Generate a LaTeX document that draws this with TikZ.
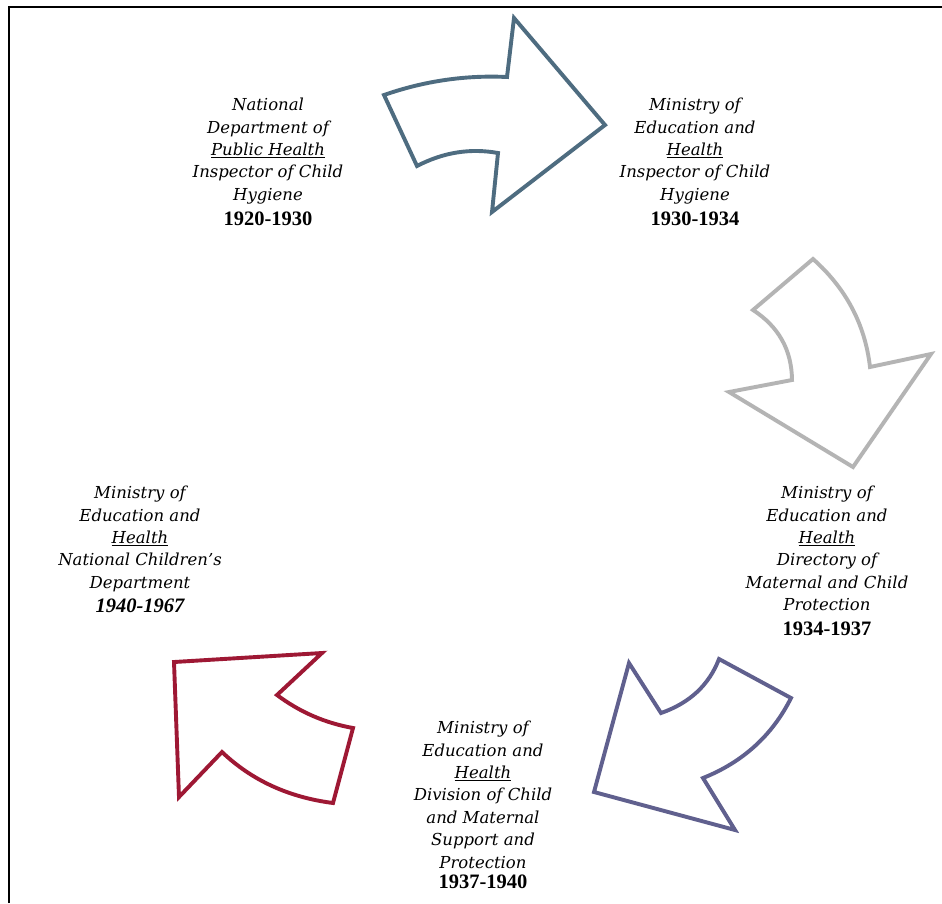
\documentclass[tikz,border=0pt]{standalone}
\usepackage{fontspec}
\setmainfont{DejaVu Serif}
\newfontfamily\yearfam{Liberation Serif}
\definecolor{arrA}{RGB}{78,108,128}
\definecolor{arrB}{RGB}{180,180,180}
\definecolor{arrC}{RGB}{96,96,142}
\definecolor{arrD}{RGB}{158,24,52}
\newcommand{\yearline}[1]{{\yearfam\fontsize{20.5}{22}\selectfont\bfseries\upshape #1}}
\begin{document}
\begin{tikzpicture}[x=1pt,y=-1pt,
  arrowshape/.style={line width=3.9pt,line join=miter,fill=white},
  lbl/.style={align=center,inner sep=0pt,anchor=north,
    font=\fontsize{16.5}{22.4}\selectfont\itshape}]
\useasboundingbox (0,0) rectangle (942,903);
\fill[white] (0,0) rectangle (942,903);
\draw[line width=1.6pt] (9,903) -- (9,7) -- (942,7);

% arrow 1
\draw[arrowshape,draw=arrA] (384,95) .. controls (424.3,81) and (465.3,75) .. (507,77) -- (514,18) -- (605,125)
  -- (492,212) -- (498,153) .. controls (470.3,148) and (443.3,152.3) .. (417,166) -- cycle;
% arrow 2
\draw[arrowshape,draw=arrB] (813,259) .. controls (846,288.3) and (865,324.3) .. (870,367) -- (931,354) -- (853,467)
  -- (729,392) -- (792,380) .. controls (791.7,350) and (778.7,326.7) .. (753,310) -- cycle;
% arrow 3
\draw[arrowshape,draw=arrC] (629,663) -- (661,713) .. controls (689.7,703) and (709,685) .. (719,659) -- (791,698)
  .. controls (772.3,735.3) and (743,762) .. (703,778) -- (735,830) -- (594,792) -- cycle;
% arrow 4
\draw[arrowshape,draw=arrD] (174,662) -- (322,653) -- (277,695) .. controls (299.7,712) and (325,723) .. (353,728)
  -- (333,803) .. controls (288.7,797.3) and (251.7,780.3) .. (222,752) -- (179,797) -- cycle;

\node[lbl] (t1) at (268,98) {National\\Department of\\\underline{Public Health}\\Inspector of Child\\Hygiene\\[3pt]\yearline{1920-1930}};
\node[lbl] (t2) at (695,98) {Ministry of\\Education and\\\underline{Health}\\Inspector of Child\\Hygiene\\[3pt]\yearline{1930-1934}};
\node[lbl] (t3) at (827,486) {Ministry of\\Education and\\\underline{Health}\\Directory of\\Maternal and Child\\Protection\\[2pt]\yearline{1934-1937}};
\node[lbl] (t4) at (483,721) {Ministry of\\Education and\\\underline{Health}\\Division of Child\\and Maternal\\Support and\\Protection\\[-2pt]\yearline{1937-1940}};
\node[lbl] (t5) at (140,486) {Ministry of\\Education and\\\underline{Health}\\National Children's\\Department\\[2pt]{\yearfam\fontsize{20.5}{22}\selectfont\bfseries\itshape 1940-1967}};
\end{tikzpicture}
\end{document}
